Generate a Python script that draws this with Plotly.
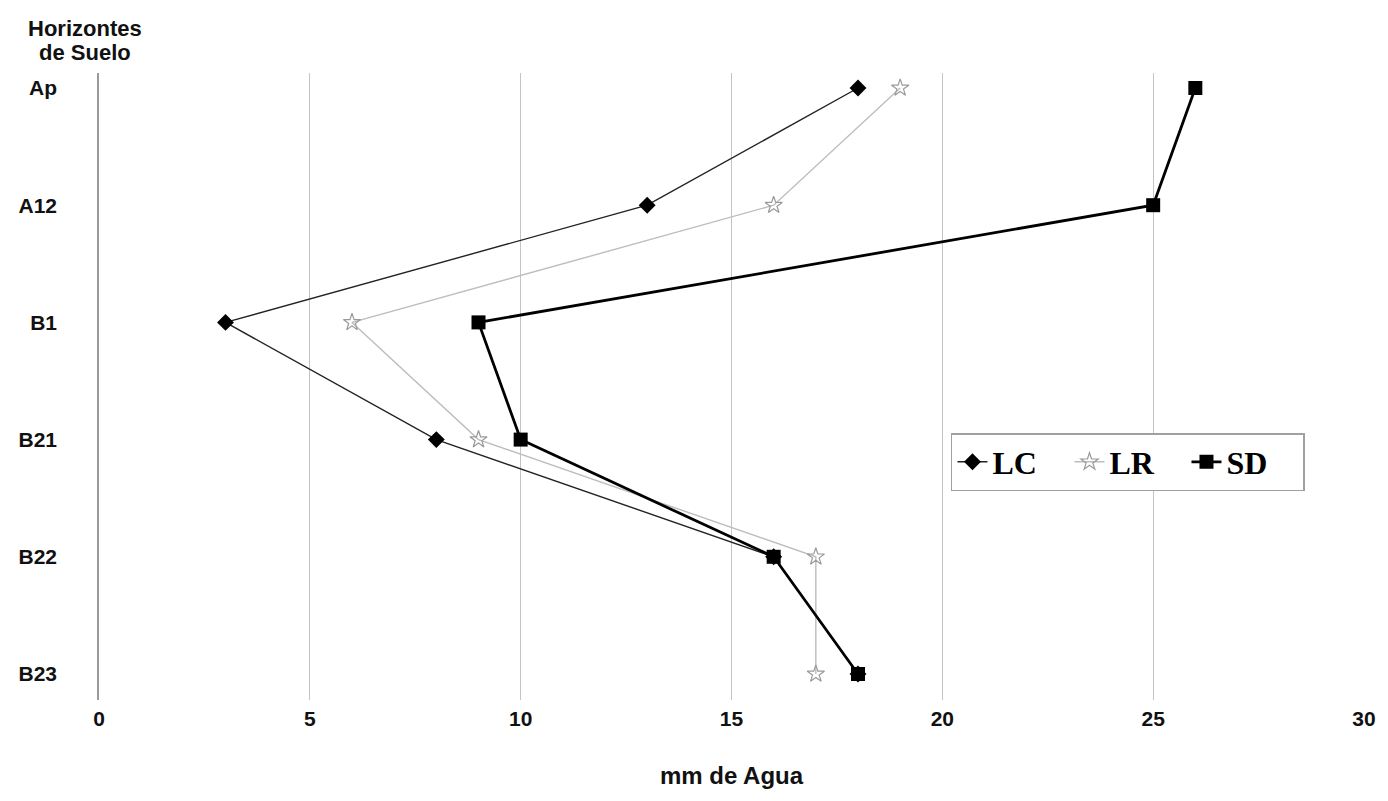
import plotly.graph_objects as go

horizons = ["Ap", "A12", "B1", "B21", "B22", "B23"]
x_ticks = [0, 5, 10, 15, 20, 25, 30]
lc = [18, 13, 3, 8, 16, 18]
lr = [19, 16, 6, 9, 17, 17]
sd = [26, 25, 9, 10, 16, 18]

ypos = list(range(len(horizons)))

fig = go.Figure()
fig.add_trace(go.Scatter(x=lc, y=ypos, name="LC", mode="lines+markers",
                         line=dict(color="#222222", width=1.4),
                         marker=dict(symbol="diamond", size=13, color="#000000")))
fig.add_trace(go.Scatter(x=lr, y=ypos, name="LR", mode="lines+markers",
                         line=dict(color="#bdbdbd", width=1.4),
                         marker=dict(symbol="star-open", size=13, color="#9a9a9a", line=dict(width=1.2))))
fig.add_trace(go.Scatter(x=sd, y=ypos, name="SD", mode="lines+markers",
                         line=dict(color="#000000", width=2.8),
                         marker=dict(symbol="square", size=14, color="#000000")))

sans = "Liberation Sans, Arial, sans-serif"
fig.update_layout(
    width=1380, height=793,
    margin=dict(l=91, r=24, t=65, b=101, autoexpand=False),
    paper_bgcolor="white", plot_bgcolor="white",
    font=dict(family=sans, size=21, color="#111111", weight="bold"),
    xaxis=dict(range=[0, 30], tickvals=x_ticks, ticktext=[str(v) for v in x_ticks],
               showgrid=True, gridcolor="#c4c4c4", gridwidth=1.2, zeroline=False,
               showline=False, ticks="", ticklabelstandoff=4,
               tickfont=dict(size=21, weight="bold"),
               title=dict(text="mm de Agua", standoff=38, font=dict(size=24, weight="bold"))),
    yaxis=dict(range=[5.222, -0.128], tickvals=ypos, ticktext=horizons,
               showgrid=False, zeroline=False, showline=True, linecolor="#9a9a9a",
               linewidth=1.5, ticks="", ticklabelstandoff=36,
               tickfont=dict(size=21, weight="bold")),
    legend=dict(orientation="h", x=0.6735, y=0.4258, xanchor="left", yanchor="top",
                bordercolor="#a0a0a0", borderwidth=1.5, bgcolor="white",
                font=dict(family="Liberation Serif, Times New Roman, serif", size=32,
                          color="#000000", weight="bold"),
                itemwidth=30, entrywidth=72, entrywidthmode="pixels"),
    showlegend=True,
)

fig.add_annotation(text="Horizontes", xref="paper", yref="paper",
                   x=-0.0111, y=1.0, xanchor="center", yanchor="middle",
                   yshift=45, showarrow=False,
                   font=dict(family=sans, size=22, color="#111111", weight="bold"))
fig.add_annotation(text="de Suelo", xref="paper", yref="paper",
                   x=-0.0111, y=1.0, xanchor="center", yanchor="middle",
                   yshift=21, showarrow=False,
                   font=dict(family=sans, size=22, color="#111111", weight="bold"))

fig.write_html("out.html")
